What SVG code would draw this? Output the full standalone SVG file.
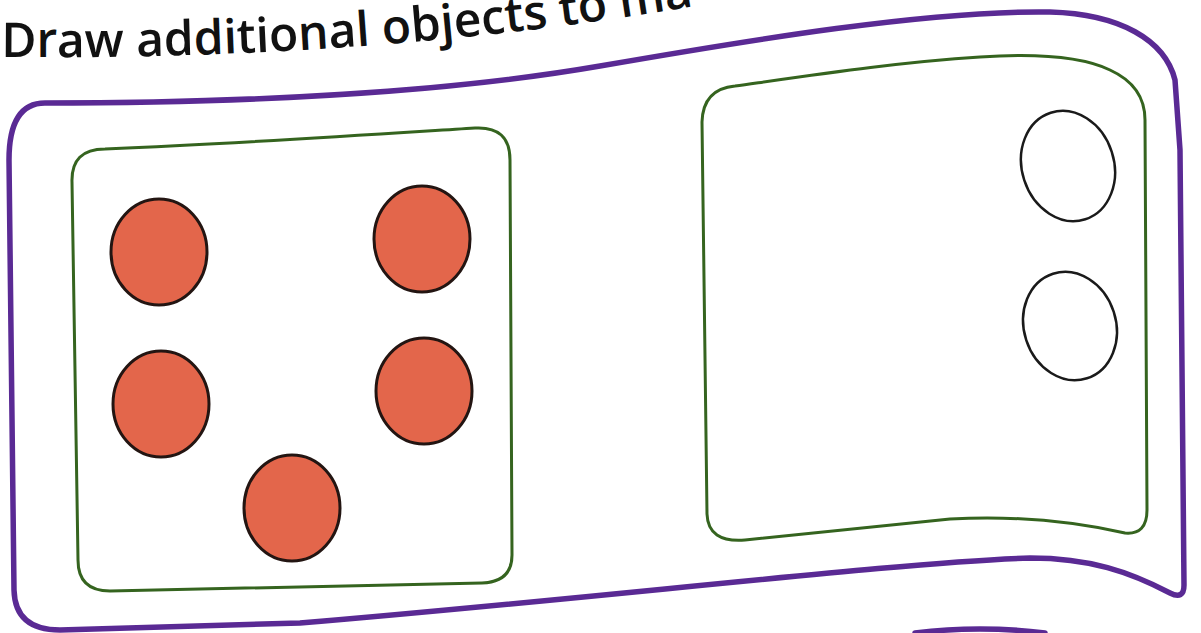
<svg xmlns="http://www.w3.org/2000/svg" width="1201" height="633" viewBox="0 0 1201 633">
<style>
.outer{fill:none;stroke:#5a2a94;stroke-width:5.5;stroke-linejoin:round;stroke-linecap:round}
.box{fill:none;stroke:#35641f;stroke-width:3;stroke-linejoin:round}
.dot{fill:#e3664b;stroke:#231512;stroke-width:3}
.empty{fill:none;stroke:#1a1a1a;stroke-width:2.5}
.title{font-family:"Open Sans","Liberation Sans",sans-serif;font-size:48px;font-weight:600;fill:#111}
</style>
<defs>
<path id="tp" d="M1,57 Q400,61 740,-2"/>
</defs>
<rect width="1201" height="633" fill="#fff"/>
<g id="title">
<text class="title"><textPath href="#tp">Draw additional objects to ma</textPath></text>
</g>
<g id="outer-frame">
<path class="outer" d="M45,103 C250,103 450,92 600,66 C750,40 930,10 1050,12 C1120,14 1165,40 1175,80 L1180,150 L1184,585 Q1184,600 1170,593 C1130,572 1090,558 1030,558 C900,562 600,598 300,623 L60,630 Q15,630 14,590 L9,160 Q9,103 45,103 Z"/>
<path class="outer" d="M915,633 Q980,625 1045,633"/>
</g>
<g id="left-box">
<path class="box" d="M105,149 C250,143 380,134 475,128 Q510,126 510,160 L512,555 Q512,582 482,583 L110,591 Q78,591 78,560 L72,182 Q71,149 105,149 Z"/>
</g>
<g id="right-box">
<path class="box" d="M735,86 C820,74 900,62 980,57 C1040,53 1085,58 1110,70 Q1145,86 1145,120 L1147,510 Q1147,535 1125,533 Q1040,514 950,519 L745,540 Q708,543 707,514 L702,122 Q703,89 735,86 Z"/>
</g>
<g id="dot-1"><ellipse class="dot" cx="159" cy="252" rx="48" ry="53"/></g>
<g id="dot-2"><ellipse class="dot" cx="422" cy="239" rx="48" ry="53"/></g>
<g id="dot-3"><ellipse class="dot" cx="161" cy="404" rx="48" ry="53"/></g>
<g id="dot-4"><ellipse class="dot" cx="424" cy="391" rx="48" ry="53"/></g>
<g id="dot-5"><ellipse class="dot" cx="292" cy="508" rx="48" ry="53"/></g>
<g id="empty-1"><ellipse class="empty" cx="1068" cy="166" rx="46" ry="56" transform="rotate(-18 1068 166)"/></g>
<g id="empty-2"><ellipse class="empty" cx="1070" cy="326" rx="46" ry="55" transform="rotate(-18 1070 326)"/></g>
<g id="connectors"></g>
</svg>
